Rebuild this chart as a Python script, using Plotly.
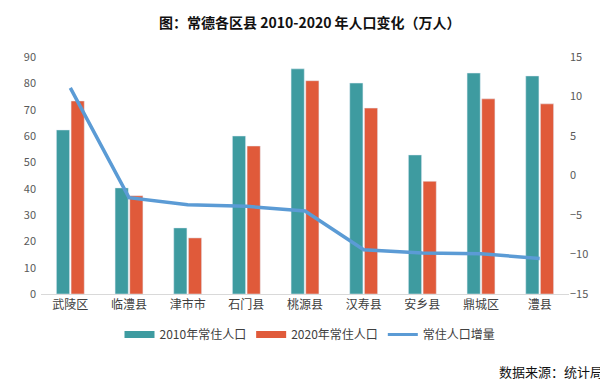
import plotly.graph_objects as go

categories = ["武陵区", "临澧县", "津市市", "石门县", "桃源县", "汉寿县", "安乡县", "鼎城区", "澧县"]
pop_2010 = [62.3, 40.3, 25.1, 60.0, 85.5, 80.1, 52.8, 83.9, 82.8]
pop_2020 = [73.3, 37.3, 21.3, 56.2, 81.0, 70.6, 42.8, 74.1, 72.2]
pop_change = [11.1, -2.8, -3.7, -3.9, -4.5, -9.4, -9.8, -9.9, -10.5]
left_ticks = [0, 10, 20, 30, 40, 50, 60, 70, 80, 90]
right_ticks = [-15, -10, -5, 0, 5, 10, 15]

TEAL = "#3E9BA0"
ORANGE = "#E05A3A"
BLUE = "#5B9BD5"
FONT = "Noto Sans CJK SC"

fig = go.Figure()
fig.add_trace(go.Bar(x=categories, y=pop_2010, name="2010年常住人口", marker_color=TEAL,
                     yaxis="y", showlegend=False))
fig.add_trace(go.Bar(x=categories, y=pop_2020, name="2020年常住人口", marker_color=ORANGE,
                     yaxis="y", showlegend=False))
fig.add_trace(go.Scatter(x=categories, y=pop_change, name="常住人口增量", mode="lines",
                         line=dict(color=BLUE, width=3.5), yaxis="y2", showlegend=False))
# legend-only entries (wide rectangle swatches as in the reference)
fig.add_trace(go.Scatter(x=[None], y=[None], name="2010年常住人口", mode="lines",
                         line=dict(color=TEAL, width=7), legendgroup="a"))
fig.add_trace(go.Scatter(x=[None], y=[None], name="2020年常住人口", mode="lines",
                         line=dict(color=ORANGE, width=7), legendgroup="b"))
fig.add_trace(go.Scatter(x=[None], y=[None], name="常住人口增量", mode="lines",
                         line=dict(color=BLUE, width=3), legendgroup="c"))

fig.update_layout(
    width=608, height=380,
    margin=dict(l=33, r=47, t=49, b=94, autoexpand=False),
    paper_bgcolor="white", plot_bgcolor="white",
    font=dict(family=FONT, size=11, color="#595959"),
    barmode="group", bargap=0.5, bargroupgap=0.1,
    showlegend=True,
    legend=dict(orientation="h", x=(302 - 33) / 528, xanchor="center", y=-0.11, yanchor="top",
                font=dict(size=12, color="#404040"), itemwidth=30, traceorder="normal",
                tracegroupgap=0),
    xaxis=dict(showline=True, linecolor="#D9D9D9", linewidth=1, ticks="", automargin=False,
               tickfont=dict(size=12, color="#404040"), showgrid=False),
    yaxis=dict(range=[0, 90], tickvals=left_ticks, showgrid=False, zeroline=False, automargin=False,
               tickfont=dict(size=11, color="#595959"), ticklabelstandoff=4),
    yaxis2=dict(range=[-15, 15], tickvals=right_ticks, overlaying="y", side="right", automargin=False,
                showgrid=False, zeroline=False, tickfont=dict(size=11, color="#595959")),
    annotations=[
        dict(text="<b>图：常德各区县 2010-2020 年人口变化（万人）</b>", xref="paper", yref="paper",
             x=(302 - 33) / 528, y=1 + (49 - 14) / 237, xanchor="center", yanchor="middle",
             showarrow=False, font=dict(size=14, color="#111111", family=FONT)),
        dict(text="数据来源：统计局", xref="paper", yref="paper",
             x=(597 - 33) / 528, y=-(363 - 286) / 237, xanchor="right", yanchor="middle",
             showarrow=False, font=dict(size=13, color="#111111", family=FONT)),
    ],
)

fig.write_html("out.html")
